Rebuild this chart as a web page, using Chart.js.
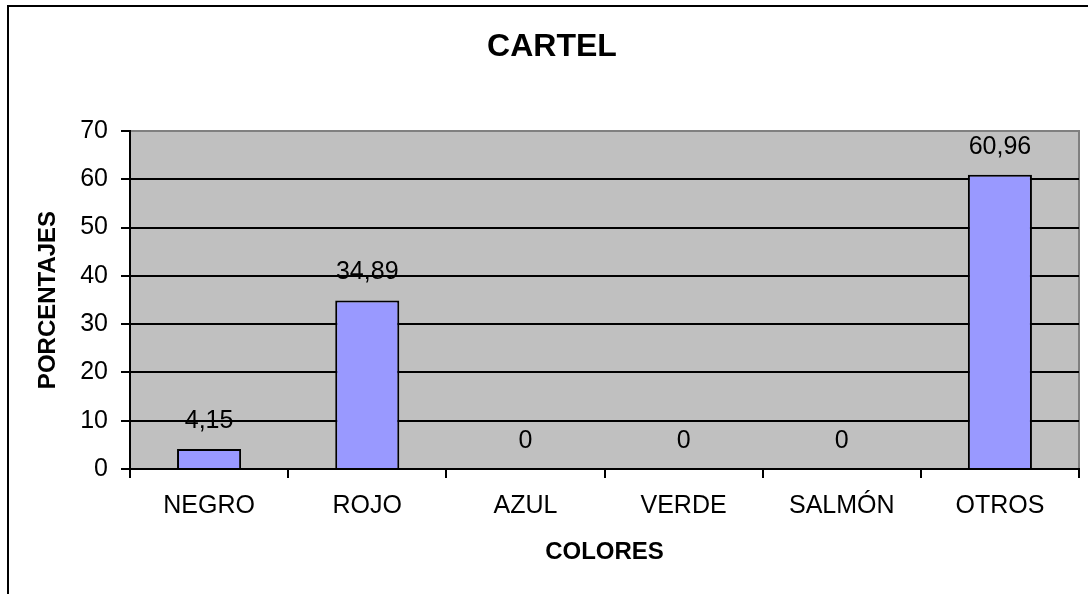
<!DOCTYPE html>
<html lang="es">
<head>
<meta charset="UTF-8" />
<title>Cartel</title>
<script src="https://cdn.jsdelivr.net/npm/chart.js@4.4.1/dist/chart.umd.min.js"></script>
<style>
	html, body { margin: 0; padding: 0; background: #fff; }
	#wrap { width: 1088px; height: 594px; position: relative; }
</style>
</head>
<body>
<div id="wrap"><canvas id="cartel"></canvas></div>
<script>
	// datos
	const colores = ["NEGRO", "ROJO", "AZUL", "VERDE", "SALMÓN", "OTROS"];
	const porcentajes = [4.15, 34.89, 0, 0, 0, 60.96];
	const yTicks = [0, 10, 20, 30, 40, 50, 60, 70];

	const FONT = "'Liberation Sans', Arial, sans-serif";

	// fondo gris del area de trazado + marco exterior + titulo
	const fondo = {
		id: "fondo",
		beforeDraw(chart) {
			const { ctx, chartArea: a } = chart;
			ctx.save();
			ctx.fillStyle = "#C0C0C0";
			ctx.fillRect(a.left, a.top, a.right - a.left, a.bottom - a.top);
			ctx.strokeStyle = "#808080";
			ctx.lineWidth = 2;
			ctx.beginPath();
			ctx.moveTo(a.left, a.top);
			ctx.lineTo(a.right, a.top);
			ctx.lineTo(a.right, a.bottom);
			ctx.stroke();
			// marco del grafico (sale del lienzo por la derecha y abajo)
			ctx.strokeStyle = "#000";
			ctx.strokeRect(8, 6, 2000, 2000);
			// titulo
			ctx.fillStyle = "#000";
			ctx.font = "bold 32px " + FONT;
			ctx.textAlign = "center";
			ctx.textBaseline = "middle";
			ctx.fillText("CARTEL", 552, 47);
			ctx.restore();
		},
	};

	// etiquetas de valor encima de cada barra
	const etiquetas = {
		id: "etiquetas",
		afterDatasetsDraw(chart) {
			const { ctx } = chart;
			const meta = chart.getDatasetMeta(0);
			ctx.save();
			ctx.fillStyle = "#000";
			ctx.font = "25px " + FONT;
			ctx.textAlign = "center";
			ctx.textBaseline = "middle";
			meta.data.forEach((bar, i) => {
				const txt = String(porcentajes[i]).replace(".", ",");
				ctx.fillText(txt, bar.x, bar.y - 28);
			});
			ctx.restore();
		},
	};

	new Chart(document.getElementById("cartel"), {
		type: "bar",
		data: {
			labels: colores,
			datasets: [
				{
					data: porcentajes,
					backgroundColor: "#9999FF",
					borderColor: "#000",
					borderWidth: 2,
					categoryPercentage: 1,
					barPercentage: 0.405,
				},
			],
		},
		options: {
			responsive: true,
			maintainAspectRatio: false,
			animation: false,
			layout: { padding: { top: 131, right: 9, left: 0, bottom: 0 } },
			plugins: {
				legend: { display: false },
				tooltip: { enabled: false },
			},
			scales: {
				x: {
					afterFit(scale) {
						scale.height = 125;
					},
					grid: {
						offset: true,
						drawOnChartArea: false,
						drawTicks: true,
						tickLength: 9,
						color: "#000",
						lineWidth: 2,
					},
					border: { color: "#000", width: 2 },
					ticks: {
						color: "#000",
						font: { family: FONT, size: 25 },
						padding: 13,
						maxRotation: 0,
					},
					title: {
						display: true,
						text: "COLORES",
						color: "#000",
						font: { family: FONT, size: 24, weight: "bold" },
						padding: { top: 0, bottom: 27 },
					},
				},
				y: {
					min: 0,
					max: 70,
					afterFit(scale) {
						scale.width = 130;
					},
					afterBuildTicks(scale) {
						scale.ticks = yTicks.map((v) => ({ value: v }));
					},
					grid: {
						color: (c) => (c.tick && c.tick.value === 70 ? "#808080" : "#000"),
						tickColor: "#000",
						lineWidth: 2,
						tickLength: 9,
					},
					border: { color: "#000", width: 2 },
					ticks: {
						color: "#000",
						font: { family: FONT, size: 25 },
						padding: 13,
					},
					title: {
						display: true,
						text: "PORCENTAJES",
						color: "#000",
						font: { family: FONT, size: 24, weight: "bold" },
						padding: { top: 34, bottom: 0 },
					},
				},
			},
		},
		plugins: [fondo, etiquetas],
	});
</script>
</body>
</html>
